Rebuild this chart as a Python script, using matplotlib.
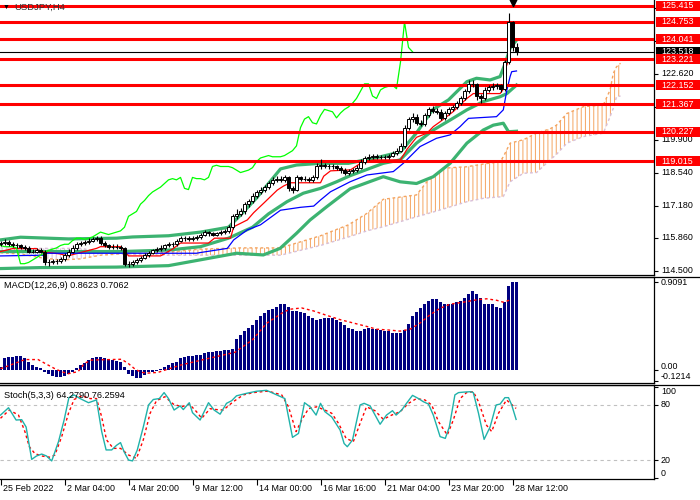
import numpy as np
import matplotlib
matplotlib.use("Agg")
import matplotlib.pyplot as plt
import matplotlib.transforms as mtransforms
from matplotlib.patches import Rectangle
from matplotlib.lines import Line2D

plt.rcParams['font.family'] = ['Liberation Sans', 'DejaVu Sans']
plt.rcParams['hatch.linewidth'] = 0.7

title = "USDJPY,H4"

# H4 candles, bar 0 = 25 Feb 12:00 ... bar 129 = 28 Mar 16:00
opens = [115.60, 115.65, 115.70, 115.60, 115.55, 115.55, 115.50, 115.45, 115.30, 115.30,
         115.35, 115.30, 114.85, 114.85, 114.90, 114.90, 115.00, 115.15, 115.30, 115.45,
         115.60, 115.65, 115.70, 115.75, 115.80, 115.85, 115.65, 115.55, 115.50, 115.50,
         115.50, 115.45, 114.80, 114.80, 114.85, 114.95, 115.05, 115.15, 115.25, 115.35,
         115.40, 115.45, 115.55, 115.60, 115.60, 115.75, 115.85, 115.85, 115.80, 115.85,
         115.90, 116.00, 116.10, 116.05, 116.00, 116.05, 116.10, 116.15, 116.30, 116.75,
         116.85, 116.95, 117.25, 117.40, 117.60, 117.75, 117.85, 117.95, 118.10, 118.25,
         118.30, 118.25, 118.35, 117.90, 117.85, 118.35, 118.30, 118.30, 118.25, 118.35,
         118.80, 118.85, 118.80, 118.80, 118.80, 118.75, 118.65, 118.55, 118.60, 118.65,
         118.75, 119.00, 119.15, 119.20, 119.25, 119.20, 119.20, 119.20, 119.25, 119.35,
         119.45, 119.65, 120.40, 120.75, 120.85, 120.60, 120.55, 120.90, 121.15, 121.10,
         121.05, 120.80, 121.00, 121.15, 121.25, 121.40, 121.60, 121.90, 122.20, 122.20,
         121.70, 121.60, 121.95, 122.05, 122.10, 122.15, 122.00, 123.10, 124.75, 123.70]
highs = [115.75, 115.80, 115.78, 115.68, 115.65, 115.62, 115.58, 115.52, 115.40, 115.45,
         115.45, 115.38, 114.98, 115.00, 115.00, 115.08, 115.25, 115.40, 115.55, 115.68,
         115.75, 115.78, 115.85, 115.88, 115.95, 115.92, 115.72, 115.62, 115.60, 115.60,
         115.58, 115.50, 114.90, 114.95, 115.02, 115.12, 115.22, 115.32, 115.42, 115.48,
         115.55, 115.62, 115.68, 115.70, 115.82, 115.92, 115.95, 115.92, 115.92, 115.98,
         116.08, 116.18, 116.15, 116.12, 116.12, 116.18, 116.22, 116.38, 116.85, 117.05,
         117.10, 117.35, 117.48, 117.70, 117.85, 117.95, 118.05, 118.20, 118.35, 118.40,
         118.40, 118.45, 118.42, 118.00, 118.45, 118.42, 118.40, 118.38, 118.45, 118.95,
         119.10, 118.95, 118.90, 118.90, 118.88, 118.82, 118.72, 118.70, 118.75, 118.85,
         119.10, 119.25, 119.30, 119.32, 119.32, 119.28, 119.28, 119.32, 119.42, 119.55,
         119.75, 120.50, 120.85, 121.00, 120.95, 120.70, 121.00, 121.25, 121.30, 121.20,
         121.15, 121.10, 121.25, 121.35, 121.50, 121.70, 122.00, 122.35, 122.35, 122.25,
         121.80, 122.05, 122.15, 122.22, 122.25, 122.20, 123.20, 125.13, 124.80, 123.90]
lows = [115.52, 115.58, 115.52, 115.48, 115.45, 115.42, 115.38, 115.22, 115.22, 115.25,
        115.22, 114.75, 114.72, 114.78, 114.80, 114.82, 114.92, 115.08, 115.22, 115.38,
        115.52, 115.58, 115.62, 115.68, 115.72, 115.58, 115.48, 115.42, 115.42, 115.40,
        115.38, 114.70, 114.68, 114.72, 114.78, 114.88, 114.98, 115.08, 115.18, 115.28,
        115.32, 115.38, 115.48, 115.50, 115.52, 115.68, 115.75, 115.72, 115.72, 115.78,
        115.82, 115.92, 115.95, 115.92, 115.92, 115.98, 116.02, 116.08, 116.22, 116.65,
        116.78, 116.85, 117.15, 117.30, 117.50, 117.65, 117.75, 117.88, 118.02, 118.15,
        118.15, 118.18, 117.80, 117.72, 117.78, 118.20, 118.20, 118.15, 118.18, 118.28,
        118.70, 118.72, 118.70, 118.70, 118.65, 118.55, 118.45, 118.45, 118.52, 118.58,
        118.68, 118.92, 119.08, 119.12, 119.12, 119.10, 119.10, 119.12, 119.18, 119.28,
        119.38, 119.55, 120.30, 120.65, 120.50, 120.45, 120.45, 120.82, 121.00, 120.95,
        120.70, 120.72, 120.92, 121.08, 121.18, 121.32, 121.52, 121.82, 122.05, 121.55,
        121.40, 121.52, 121.85, 121.95, 122.00, 121.85, 121.90, 123.00, 123.55, 123.40]
closes = [115.65, 115.70, 115.60, 115.55, 115.55, 115.50, 115.45, 115.30, 115.30, 115.35,
          115.30, 114.85, 114.85, 114.90, 114.90, 115.00, 115.15, 115.30, 115.45, 115.60,
          115.65, 115.70, 115.75, 115.80, 115.85, 115.65, 115.55, 115.50, 115.50, 115.50,
          115.45, 114.80, 114.80, 114.85, 114.95, 115.05, 115.15, 115.25, 115.35, 115.40,
          115.45, 115.55, 115.60, 115.60, 115.75, 115.85, 115.85, 115.80, 115.85, 115.90,
          116.00, 116.10, 116.05, 116.00, 116.05, 116.10, 116.15, 116.30, 116.75, 116.85,
          116.95, 117.25, 117.40, 117.60, 117.75, 117.85, 117.95, 118.10, 118.25, 118.30,
          118.25, 118.35, 117.90, 117.85, 118.35, 118.30, 118.30, 118.25, 118.35, 118.80,
          118.85, 118.80, 118.80, 118.80, 118.75, 118.65, 118.55, 118.60, 118.65, 118.75,
          119.00, 119.15, 119.20, 119.25, 119.20, 119.20, 119.20, 119.25, 119.35, 119.45,
          119.65, 120.40, 120.75, 120.85, 120.60, 120.55, 120.90, 121.15, 121.10, 121.05,
          120.80, 121.00, 121.15, 121.25, 121.40, 121.60, 121.90, 122.20, 122.20, 121.70,
          121.60, 121.95, 122.05, 122.10, 122.15, 122.00, 123.10, 124.75, 123.70, 123.52]

levels = [125.415, 124.753, 124.041, 123.221, 122.152, 121.367, 120.227, 119.015]
last_price = 123.518
price_ticks = [114.500, 115.860, 117.180, 118.540, 119.900, 121.260, 122.620, 123.980, 125.340]
price_labels = [114.500, 115.860, 117.180, 118.540, 119.900, 122.620]
chikou_shift = 26

# indicator lines as (bar, value) vertices
bb_upper = [(0, 115.78), (5, 115.89), (17, 115.82), (29, 115.85), (33, 115.90), (42, 115.95),
            (50, 116.10), (57, 116.30), (60, 116.80), (64, 117.50), (67, 118.10), (70, 118.70),
            (74, 118.86), (80, 118.93), (87, 118.93), (95, 119.20), (100, 119.40), (104, 120.18),
            (108, 121.13), (112, 121.54), (116.6, 122.29), (119, 122.43), (122.4, 122.36),
            (124.9, 122.50), (126.2, 123.05), (127.4, 123.66), (129, 124.00)]
bb_middle = [(0, 115.30), (30, 115.30), (42, 115.36), (50, 115.50), (57, 115.85), (63, 116.30),
             (67, 116.85), (71.6, 117.35), (75.7, 117.70), (80, 117.90), (84, 118.17), (87.4, 118.42),
             (95.7, 118.93), (99.9, 119.07), (104, 119.76), (108.2, 120.30), (112.4, 120.71),
             (116.6, 121.13), (120.7, 121.47), (124.9, 121.67), (126.6, 121.80), (129, 122.15)]
bb_lower = [(0, 114.60), (10, 114.64), (29, 114.66), (42, 114.72), (52, 115.02), (59, 115.23),
            (65.7, 115.16), (69.9, 115.43), (74, 116.05), (77.4, 116.60), (81.6, 117.15),
            (87.4, 117.88), (95.7, 118.38), (99.9, 118.17), (104, 118.10), (108.2, 118.38),
            (112.4, 118.93), (116.6, 119.76), (120.7, 120.30), (123.2, 120.50), (125.7, 120.58),
            (127, 120.23), (129, 120.25)]
tenkan = [(0, 115.30), (3, 115.42), (9, 115.42), (10, 115.30), (15, 115.20), (16.5, 115.12),
          (17.5, 115.15), (24, 115.43), (25, 115.50), (30, 115.50), (31, 115.35), (32, 115.12),
          (40, 115.12), (43, 115.40), (45, 115.65), (52, 115.65), (53.5, 115.85), (57.5, 115.85),
          (58.3, 116.32), (61.7, 116.60), (63.3, 116.90), (65.8, 117.29), (69.2, 117.83),
          (70.8, 118.00), (72.5, 118.13), (80, 118.13), (80.8, 118.40), (82.5, 118.62),
          (87.5, 118.66), (90, 118.93), (93.2, 119.07), (100, 119.07), (101.6, 119.50),
          (104, 120.00), (106.6, 120.17), (108.2, 120.44), (109.9, 120.64), (113.2, 121.06),
          (115.3, 121.40), (116.6, 121.60), (118.2, 121.80), (124.9, 121.80), (125.7, 121.98),
          (126.4, 122.90), (127, 123.15), (129, 123.18)]
kijun = [(0, 115.12), (10.8, 115.15), (11.5, 115.23), (49, 115.23), (50, 115.26), (56.7, 115.43),
         (58.3, 115.78), (61.7, 116.19), (65, 116.40), (70, 117.00), (75, 117.12), (78.3, 117.17),
         (80, 117.42), (82.5, 117.76), (87.4, 118.17), (91.6, 118.45), (98.2, 118.59),
         (100.7, 118.93), (104.9, 119.62), (109, 119.96), (112.4, 120.10), (114.9, 120.44),
         (116.1, 120.64), (117, 120.78), (124, 120.85), (125.7, 121.13), (126.6, 121.95),
         (127.4, 122.50), (127.8, 122.70), (129, 122.73)]
# Ichimoku cloud: (bar, senkou A, senkou B)
cloud = [(0, 115.25, 115.45), (5, 115.20, 115.45), (10, 115.05, 115.43), (15, 114.95, 115.43),
         (20, 115.00, 115.43), (25, 115.15, 115.30), (30, 115.20, 115.20), (40, 115.25, 115.15),
         (50, 115.40, 115.15), (60, 115.45, 115.15), (70, 115.45, 115.15), (75, 115.70, 115.35),
         (80, 115.95, 115.55), (87, 116.40, 115.90), (91.6, 116.87, 116.15), (95.7, 117.45, 116.32),
         (104, 117.63, 116.73), (106.6, 118.17, 116.85), (110.7, 118.73, 117.05),
         (116.6, 118.79, 117.35), (120.7, 118.90, 117.49), (124.9, 119.00, 117.55),
         (125.7, 119.20, 117.56), (127.4, 119.76, 118.17), (130.7, 119.90, 118.52),
         (134, 120.17, 118.55), (137.4, 120.35, 119.07), (139, 120.50, 119.30),
         (141.6, 120.98, 119.76), (145.7, 121.26, 120.03), (150.7, 121.33, 120.17),
         (152.4, 121.95, 120.85), (153.2, 122.63, 121.20), (154, 122.90, 121.67),
         (155, 123.05, 121.70)]

macd_hist = [0.03, 0.12, 0.13, 0.13, 0.14, 0.14, 0.12, 0.08, 0.045, 0.03,
             0.015, -0.025, -0.045, -0.066, -0.08, -0.08, -0.07, -0.045, -0.025, 0.015,
             0.05, 0.07, 0.10, 0.12, 0.13, 0.13, 0.12, 0.108, 0.10, 0.094,
             0.083, 0.03, -0.04, -0.07, -0.09, -0.085, -0.06, -0.025, -0.025, -0.01,
             0.01, 0.03, 0.045, 0.066, 0.083, 0.118, 0.128, 0.139, 0.142, 0.149,
             0.156, 0.17, 0.184, 0.184, 0.19, 0.198, 0.20, 0.205, 0.21, 0.317,
             0.355, 0.397, 0.432, 0.467, 0.519, 0.561, 0.592, 0.624, 0.634, 0.655,
             0.676, 0.686, 0.655, 0.613, 0.613, 0.603, 0.592, 0.561, 0.54, 0.519,
             0.53, 0.54, 0.54, 0.54, 0.519, 0.498, 0.467, 0.435, 0.425, 0.404,
             0.404, 0.425, 0.435, 0.425, 0.425, 0.415, 0.404, 0.404, 0.383, 0.383,
             0.383, 0.415, 0.477, 0.561, 0.603, 0.644, 0.676, 0.707, 0.728, 0.728,
             0.697, 0.686, 0.686, 0.676, 0.697, 0.707, 0.739, 0.78, 0.812, 0.78,
             0.739, 0.686, 0.686, 0.676, 0.655, 0.644, 0.697, 0.864, 0.906, 0.9091]
macd_signal = [(0, 0.01), (3.6, 0.066), (6.1, 0.105), (9.4, 0.105), (11.1, 0.066), (13.6, 0.01),
               (15.25, -0.02), (16.9, -0.042), (19.4, -0.02), (21, 0.066), (22.75, 0.10),
               (30.25, 0.108), (31.9, 0.066), (33.6, 0.007), (35.25, -0.028), (36.9, -0.035),
               (39.4, -0.028), (41.9, 0.007), (45.25, 0.05), (50.25, 0.10), (54.4, 0.14),
               (58.6, 0.18), (63, 0.31), (66.5, 0.48), (70.7, 0.596), (72.4, 0.627), (75.3, 0.64),
               (78.2, 0.61), (81.5, 0.564), (84.9, 0.519), (88.2, 0.484), (91.5, 0.449), (94, 0.42),
               (97.4, 0.41), (99.9, 0.40), (102.4, 0.42), (104.9, 0.484), (107.4, 0.57),
               (109.9, 0.637), (112.4, 0.679), (115.7, 0.70), (119, 0.724), (121.5, 0.735),
               (124, 0.72), (125.7, 0.70), (127.8, 0.728)]
stoch_main = [(0, 69), (2.0, 77), (3.9, 63.6), (5.3, 64), (6.4, 56), (7.8, 20.7), (9.0, 24.4),
              (10.3, 26.5), (11.5, 24.4), (12.8, 19), (14.5, 40), (15.9, 63.6), (17.1, 88),
              (18.4, 91), (19.9, 87), (22.0, 82.5), (24.0, 85.5), (25.3, 51), (26.4, 31),
              (27.8, 31), (29.0, 36), (30.0, 39), (30.9, 29), (32.0, 20), (33.0, 19), (34.2, 31),
              (35.7, 56), (37.0, 80), (38.2, 86), (39.7, 87), (40.9, 93.5), (42.0, 87),
              (43.4, 74.5), (44.9, 79), (45.7, 75), (47.2, 82.5), (48.0, 71.6), (49.9, 63.6),
              (52.0, 82.5), (53.4, 74.5), (54.9, 70), (56.5, 81.8), (57.8, 84.7), (59.0, 90),
              (61.5, 92.7), (64.0, 95), (66.5, 96), (68.2, 92.7), (71.1, 87), (73.0, 44.7),
              (74.5, 49), (76.0, 82.5), (77.4, 78), (78.9, 69), (80.0, 81.8), (81.1, 72.7),
              (82.8, 67), (84.9, 52.7), (85.9, 38), (86.7, 34.5), (88.0, 41.8), (89.9, 80),
              (90.9, 81.8), (92.4, 79), (94.9, 59), (96.5, 69), (98.0, 73.8), (98.9, 69),
              (100.3, 74.5), (101.5, 81.8), (103.0, 90.5), (104.5, 87), (105.7, 83.6),
              (107.0, 81), (108.2, 69), (109.9, 45.5), (111.2, 43.6), (112.2, 56), (113.6, 91),
              (114.5, 93.5), (115.7, 94), (117.5, 94.5), (118.2, 93.5), (119.5, 71), (120.9, 42.5),
              (122.4, 56), (123.9, 80), (124.9, 81), (126.1, 88), (127.0, 88), (127.8, 80),
              (128.9, 64.28)]
stoch_signal = [(0, 65.5), (2.2, 74.5), (4.5, 69), (6.1, 51), (7.2, 34.5), (8.6, 27), (10.3, 24.4),
                (12.4, 23), (13.6, 25.5), (15.3, 45.5), (17.0, 71), (18.4, 86), (20.3, 90),
                (22.4, 87), (24.0, 87), (25.3, 67), (26.5, 42), (28.2, 32.7), (30.0, 32.7),
                (32.0, 25.5), (34.0, 21.8), (35.7, 42), (37.4, 71), (39.0, 84.7), (41.1, 89),
                (43.2, 81), (45.3, 78), (47.2, 81), (49.0, 72.7), (50.3, 65.5), (52.4, 76),
                (54.0, 75), (55.7, 74.5), (58.2, 83.6), (60.7, 91), (63.2, 93.5), (66.5, 95),
                (67.4, 94.5), (70.3, 91), (72.0, 78), (73.9, 51), (75.3, 63.6), (77.0, 76),
                (79.0, 78), (81.1, 74.5), (82.8, 71), (84.5, 60), (86.4, 43.6), (88.2, 40),
                (89.9, 60), (91.5, 78), (93.6, 73.8), (95.7, 64.4), (97.8, 69), (99.9, 72.7),
                (102.0, 81.8), (104.0, 87), (106.1, 85.5), (107.8, 80), (109.5, 61.8),
                (111.7, 47.3), (113.2, 63.6), (114.9, 87), (116.5, 93.5), (118.2, 94.5),
                (119.5, 83.6), (121.5, 58), (122.8, 51), (124.5, 71), (126.5, 85.5), (128.2, 79),
                (128.9, 76.26)]

date_bars = [0, 16, 32, 48, 64, 80, 96, 112, 128]
date_labels = ["25 Feb 2022", "2 Mar 04:00", "4 Mar 20:00", "9 Mar 12:00", "14 Mar 00:00",
               "16 Mar 16:00", "21 Mar 04:00", "23 Mar 20:00", "28 Mar 12:00"]

W, H = 700, 500
fig = plt.figure(figsize=(7, 5), dpi=100)
axw = 654 / W
ax = fig.add_axes([0, 1 - 275 / H, axw, 275 / H])
axm = fig.add_axes([0, 1 - 383 / H, axw, 106 / H])
axs = fig.add_axes([0, 1 - 479 / H, axw, 94 / H])

xlim = (-0.125, 163.375)
for a in (ax, axm, axs):
    a.set_xlim(*xlim)
    a.set_xticks([])
    for s in a.spines.values():
        s.set_color('black')
        s.set_linewidth(0.9)
    a.spines['left'].set_visible(False)
    a.yaxis.tick_right()
    a.tick_params(axis='y', length=3, width=0.8, labelright=False, labelleft=False)
ax.spines['top'].set_visible(False)


def xy(pairs):
    return [p[0] for p in pairs], [p[1] for p in pairs]


def right_text(a, y, s, va='center', color='black', zorder=3):
    tr = mtransforms.blended_transform_factory(a.transAxes, a.transData)
    a.text(1 + 7 / 654, y, s, transform=tr, ha='left', va=va, fontsize=6.4,
           color=color, clip_on=False, zorder=zorder)


def right_box(a, y, s, fc):
    tr = mtransforms.blended_transform_factory(a.transAxes, a.transData)
    a.add_patch(Rectangle((1 + 1.5 / 654, y - 0.205), 45 / 654, 0.41, transform=tr,
                          facecolor=fc, edgecolor='none', clip_on=False, zorder=6))
    a.text(1 + 7 / 654, y, s, transform=tr, ha='left', va='center', fontsize=6.4,
           color='white', clip_on=False, zorder=7)


# ---- main price panel ----
ax.set_ylim(114.335, 125.65)
o = np.array(opens)
h = np.array(highs)
l = np.array(lows)
c = np.array(closes)
idx = np.arange(len(c))

cx = np.array([p[0] for p in cloud])
ca = np.array([p[1] for p in cloud])
cb = np.array([p[2] for p in cloud])
ax.fill_between(cx, ca, cb, where=ca >= cb, interpolate=True, facecolor='none',
                edgecolor='#F4A460', hatch='||||', linewidth=0, zorder=1)
ax.fill_between(cx, ca, cb, where=ca < cb, interpolate=True, facecolor='none',
                edgecolor='#D8BFD8', hatch='||||', linewidth=0, zorder=1)
ax.plot(cx, ca, color='#F4A460', lw=1, ls=(0, (2, 2)), zorder=1.5)
ax.plot(cx, cb, color='#D8BFD8', lw=1, ls=(0, (2, 2)), zorder=1.5)

for band in (bb_upper, bb_middle, bb_lower):
    bx, by = xy(band)
    ax.plot(bx, by, color='#3CB371', lw=2.3, zorder=2)

tx, ty = xy(tenkan)
ax.plot(tx, ty, color='red', lw=0.9, zorder=3)
kx, ky = xy(kijun)
ax.plot(kx, ky, color='blue', lw=0.9, zorder=3)
ax.plot(idx[chikou_shift:] - chikou_shift, c[chikou_shift:], color='#00FF00', lw=0.9, zorder=3)

for v in levels:
    ax.axhline(v, color='red', lw=2.2, zorder=3.5)
ax.axhline(last_price, color='black', lw=0.8, zorder=3.4)

up = c >= o
ax.vlines(idx, l, h, color='black', lw=0.8, zorder=4)
ax.bar(idx[up], (c - o)[up], bottom=o[up], width=0.62, color='white',
       edgecolor='black', linewidth=0.7, zorder=5)
ax.bar(idx[~up], (o - c)[~up], bottom=c[~up], width=0.62, color='black',
       edgecolor='black', linewidth=0.7, zorder=5)

ax.set_yticks(price_ticks)
for v in price_labels:
    right_text(ax, v, f"{v:.3f}")
right_box(ax, last_price, f"{last_price:.3f}", 'black')
for v in levels:
    right_box(ax, v, f"{v:.3f}", 'red')

ax.text(14 / 654, 1 - 7.5 / 275, title, transform=ax.transAxes, ha='left', va='center',
        fontsize=6.8, color='#303030', zorder=3.6)
ax.text(3 / 654, 1 - 7 / 275, "\u25bc", transform=ax.transAxes, ha='left', va='center',
        fontsize=5, color='black', zorder=3.6)
ax.scatter([513 / 654], [1 - 2 / 275], marker='v', s=35, color='black',
           transform=ax.transAxes, clip_on=False, zorder=8)

# ---- MACD panel ----
axm.set_ylim(-0.138, 0.961)
axm.bar(np.arange(len(macd_hist)), macd_hist, width=0.75, color='#000080', zorder=2)
mx, my = xy(macd_signal)
axm.plot(mx, my, color='red', lw=1, ls=(0, (2, 2)), zorder=3)
axm.set_yticks([0.9091, 0.0, -0.1214])
right_text(axm, 0.9091, "0.9091")
right_text(axm, 0.03, "0.00")
right_text(axm, -0.1214, "-0.1214", va='bottom')
axm.text(4 / 654, 1 - 8 / 106, "MACD(12,26,9) 0.8623 0.7062", transform=axm.transAxes,
         ha='left', va='center', fontsize=6.6, color='black')

# ---- Stochastic panel ----
axs.set_ylim(-0.7, 101.8)
for lv in (20, 80):
    axs.axhline(lv, color='#C0C0C0', lw=0.8, ls=(0, (3, 3)), zorder=1)
sx, sy = xy(stoch_main)
axs.plot(sx, sy, color='#20B2AA', lw=1, zorder=3)
gx, gy = xy(stoch_signal)
axs.plot(gx, gy, color='red', lw=1, ls=(0, (2, 2)), zorder=2)
axs.set_yticks([100, 80, 20, 0])
right_text(axs, 100, "100", va='top')
right_text(axs, 80, "80")
right_text(axs, 20, "20")
right_text(axs, 0, "0", va='bottom')
axs.text(4 / 654, 1 - 10 / 94, "Stoch(5,3,3) 64.2790 76.2594", transform=axs.transAxes,
         ha='left', va='center', fontsize=6.6, color='black')

axs.set_xticks(date_bars)
axs.tick_params(axis='x', length=4, width=0.8, direction='out', labelbottom=False)
for b, lab in zip(date_bars, date_labels):
    axs.annotate(lab, xy=(b, 0), xycoords=('data', 'axes fraction'), xytext=(1.5, -6.6),
                 textcoords='offset points', ha='left', va='center', fontsize=6.4,
                 annotation_clip=False)

# full-width separators
for yy in (277, 385):
    fig.add_artist(Line2D([0, 1], [1 - yy / H, 1 - yy / H], color='black', lw=0.9))

fig.savefig("out.png", dpi=100)
